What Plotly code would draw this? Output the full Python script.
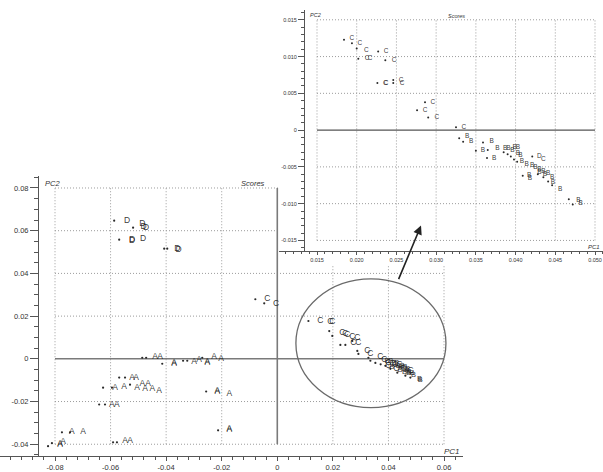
import plotly.graph_objects as go

# ---------------- main score plot: PC1 vs PC2 ----------------
main_xtick_vals = [-0.08, -0.06, -0.04, -0.02, 0.0, 0.02, 0.04, 0.06]
main_xtick_text = ["-0.08", "-0.06", "-0.04", "-0.02", "0", "0.02", "0.04", "0.06"]
main_ytick_vals = [-0.04, -0.02, 0.0, 0.02, 0.04, 0.06, 0.08]
main_ytick_text = ["-0.04", "-0.02", "0", "0.02", "0.04", "0.06", "0.08"]

# class A labels
A_lab_x = [-0.0440, -0.0422, -0.0371, -0.0371, -0.0299, -0.0281, -0.0252, -0.0252, -0.0227, -0.0202,
           -0.0523, -0.0508, -0.0584, -0.0551, -0.0505, -0.0486, -0.0465, -0.0476, -0.0450, -0.0425,
           -0.0216, -0.0216, -0.0173, -0.0595, -0.0577, -0.0739, -0.0699, -0.0173, -0.0173,
           -0.0782, -0.0782, -0.0771, -0.0548, -0.0530]
A_lab_y = [0.0009, 0.0009, -0.0019, -0.0024, -0.0014, -0.0005, -0.0014, -0.0019, 0.0009, 0.0000,
           -0.0088, -0.0088, -0.0135, -0.0130, -0.0135, -0.0116, -0.0116, -0.0140, -0.0140, -0.0149,
           -0.0153, -0.0149, -0.0163, -0.0214, -0.0214, -0.0344, -0.0344, -0.0335, -0.0330,
           -0.0400, -0.0405, -0.0391, -0.0386, -0.0384]
# class A sample dots
A_dot_x = [-0.0486, -0.0472, -0.0414, -0.0339, -0.0324, -0.0270, -0.0569, -0.0548, -0.0627, -0.0595,
           -0.0530, -0.0256, -0.0641, -0.0620, -0.0775, -0.0746, -0.0213, -0.0825, -0.0811, -0.0591,
           -0.0577]
A_dot_y = [0.0005, 0.0005, -0.0023, -0.0009, -0.0009, 0.0005, -0.0088, -0.0088, -0.0135, -0.0135,
           -0.0121, -0.0153, -0.0214, -0.0214, -0.0344, -0.0344, -0.0335, -0.0409, -0.0395, -0.0391,
           -0.0391]

# class D labels and dots
D_lab_x = [-0.0541, -0.0486, -0.0481, -0.0472, -0.0523, -0.0523, -0.0483, -0.0360, -0.0355]
D_lab_y = [0.0647, 0.0633, 0.0618, 0.0612, 0.0558, 0.0554, 0.0563, 0.0516, 0.0511]
D_dot_x = [-0.0587, -0.0519, -0.0569, -0.0407, -0.0396]
D_dot_y = [0.0647, 0.0614, 0.0558, 0.0516, 0.0516]

# class C labels and dots
C_lab_x = [-0.0036, -0.0004, 0.0155, 0.0191, 0.0198, 0.0234, 0.0245, 0.0252, 0.0270, 0.0288,
           0.0274, 0.0292, 0.0324, 0.0335, 0.0371, 0.0385, 0.0400, 0.0415, 0.0400, 0.0425,
           0.0428, 0.0440, 0.0455, 0.0480]
C_lab_y = [0.0279, 0.0256, 0.0177, 0.0175, 0.0172, 0.0121, 0.0116, 0.0112, 0.0102, 0.0100,
           0.0074, 0.0074, 0.0037, 0.0023, 0.0009, -0.0005, -0.0020, -0.0025, -0.0035, -0.0030,
           -0.0045, -0.0028, -0.0046, -0.0055]
C_dot_x = [-0.0079, -0.0047, 0.0112, 0.0187, 0.0198, 0.0227, 0.0245, 0.0270, 0.0288, 0.0292,
           0.0328, 0.0335, 0.0353, 0.0372, 0.0389, 0.0407, 0.0432, 0.0461, 0.0479]
C_dot_y = [0.0279, 0.0260, 0.0177, 0.0130, 0.0107, 0.0065, 0.0065, 0.0084, 0.0037, 0.0023,
           0.0005, -0.0009, -0.0019, -0.0026, -0.0033, -0.0047, -0.0065, -0.0079, -0.0088]

# class B labels
B_lab_x = [0.0395, 0.0408, 0.0420, 0.0430, 0.0435, 0.0445, 0.0450, 0.0460, 0.0465, 0.0470,
           0.0475, 0.0485, 0.0490, 0.0412, 0.0442, 0.0458, 0.0472, 0.0515, 0.0512]
B_lab_y = [-0.0010, -0.0012, -0.0018, -0.0022, -0.0035, -0.0040, -0.0033, -0.0040, -0.0052, -0.0047,
           -0.0060, -0.0068, -0.0075, -0.0040, -0.0052, -0.0060, -0.0068, -0.0098, -0.0095]

# ---------------- inset: enlarged region of the scores ----------------
ins_xtick_vals = [0.015, 0.020, 0.025, 0.030, 0.035, 0.040, 0.045, 0.050]
ins_xtick_text = ["0.015", "0.020", "0.025", "0.030", "0.035", "0.040", "0.045", "0.050"]
ins_ytick_vals = [-0.015, -0.010, -0.005, 0.0, 0.005, 0.010, 0.015]
ins_ytick_text = ["-0.015", "-0.010", "-0.005", "0", "0.005", "0.010", "0.015"]

iC_lab_x = [0.0194, 0.0204, 0.0212, 0.0213, 0.0217, 0.0237, 0.0247, 0.0236, 0.0237, 0.0256,
            0.0257, 0.0296, 0.0286, 0.0301, 0.0335, 0.0435]
iC_lab_y = [0.0125, 0.0118, 0.0109, 0.0097, 0.0097, 0.0107, 0.0095, 0.0064, 0.0063, 0.0067,
            0.0063, 0.0038, 0.0027, 0.0017, 0.0004, -0.0040]
iB_lab_x = [0.0339, 0.0344, 0.0370, 0.0359, 0.0373, 0.0377, 0.0387, 0.0391, 0.0396, 0.0399,
            0.0403, 0.0403, 0.0406, 0.0408, 0.0414, 0.0421, 0.0425, 0.0430, 0.0435, 0.0430,
            0.0437, 0.0417, 0.0418, 0.0441, 0.0446, 0.0447, 0.0456, 0.0479, 0.0482]
iB_lab_y = [-0.0009, -0.0016, -0.0016, -0.0028, -0.0038, -0.0025, -0.0025, -0.0025, -0.0028, -0.0024,
            -0.0023, -0.0031, -0.0035, -0.0042, -0.0047, -0.0048, -0.0050, -0.0053, -0.0056, -0.0058,
            -0.0060, -0.0062, -0.0066, -0.0059, -0.0064, -0.0071, -0.0080, -0.0095, -0.0099]
iD_lab_x = [0.0430]
iD_lab_y = [-0.0036]
i_dot_x = [0.0184, 0.0194, 0.0200, 0.0202, 0.0227, 0.0236, 0.0226, 0.0246, 0.0246, 0.0286,
           0.0276, 0.0290, 0.0325, 0.0329, 0.0334, 0.0359, 0.0350, 0.0365, 0.0364, 0.0385,
           0.0390, 0.0394, 0.0398, 0.0402, 0.0421, 0.0409, 0.0428, 0.0435, 0.0441, 0.0446,
           0.0467, 0.0472]
i_dot_y = [0.0123, 0.0118, 0.0111, 0.0097, 0.0107, 0.0095, 0.0064, 0.0068, 0.0064, 0.0038,
           0.0027, 0.0017, 0.0004, -0.0011, -0.0016, -0.0017, -0.0028, -0.0027, -0.0038, -0.0030,
           -0.0033, -0.0036, -0.0040, -0.0043, -0.0036, -0.0062, -0.0060, -0.0064, -0.0070, -0.0075,
           -0.0094, -0.0101]

# ---------------- geometry (pixels of the 603x472 page) ----------------
W, H = 603, 472
FONT = "Liberation Sans, Arial, sans-serif"
INK = "#333333"
MARK = "rgba(30,30,30,0.92)"
GRID = "#9c9c9c"


def px_range(p0, p1, v0, v1, e0, e1):
    """Axis range so that value v0 sits at pixel p0 and v1 at p1, for a domain e0..e1."""
    s = (v1 - v0) / (p1 - p0)
    return [v0 + (e0 - p0) * s, v0 + (e1 - p0) * s]


# main plot: data box [-0.08,0.06]x[-0.04,0.08] at pixels x 55..444, y 449..190
m_xdom = (0, 463)
m_ydom = (461, 178)
m_xr = px_range(55, 444, -0.08, 0.06, *m_xdom)
m_yr = px_range(449, 190, -0.04, 0.08, *m_ydom)

# inset: data box [0.015,0.050]x[-0.015,0.015] at pixels x 317..595, y 243..20
i_xdom = (279, 603)
i_ydom = (254, 10)
i_xr = px_range(317, 595, 0.015, 0.050, *i_xdom)
i_yr = px_range(243, 20, -0.015, 0.015, *i_ydom)

fig = go.Figure()


def grid_trace(xs, ys, xlim, ylim, xa, ya):
    gx, gy = [], []
    for v in xs:
        gx += [v, v, None]
        gy += [ylim[0], ylim[1], None]
    for v in ys:
        gx += [xlim[0], xlim[1], None]
        gy += [v, v, None]
    return go.Scatter(x=gx, y=gy, mode="lines", xaxis=xa, yaxis=ya, hoverinfo="skip",
                      line=dict(color=GRID, width=1, dash="1px,2px"), cliponaxis=False)


def letters(xs, ys, ch, size, xa, ya):
    return go.Scatter(x=xs, y=ys, mode="text", text=[ch] * len(xs), xaxis=xa, yaxis=ya,
                      textposition="middle center", cliponaxis=False,
                      textfont=dict(family=FONT, size=size, color=MARK))


def dots(xs, ys, xa, ya, size=2.2):
    return go.Scatter(x=xs, y=ys, mode="markers", xaxis=xa, yaxis=ya, cliponaxis=False,
                      marker=dict(size=size, color="#2a2a2a", line=dict(width=0)))


# --- main plot traces ---
fig.add_trace(grid_trace([-0.08, -0.06, -0.04, -0.02, 0.02, 0.04, 0.06],
                         [-0.04, -0.02, 0.02, 0.04, 0.06, 0.08],
                         (-0.08, 0.06), (-0.04, 0.08), "x", "y"))
fig.add_trace(go.Scatter(x=[-0.08, 0.06, None, 0, 0], y=[0, 0, None, -0.04, 0.08], mode="lines",
                         xaxis="x", yaxis="y", hoverinfo="skip", cliponaxis=False,
                         line=dict(color="#7a7a7a", width=1.6)))
fig.add_trace(dots(A_dot_x, A_dot_y, "x", "y"))
fig.add_trace(dots(D_dot_x, D_dot_y, "x", "y"))
fig.add_trace(dots(C_dot_x, C_dot_y, "x", "y"))
fig.add_trace(letters(A_lab_x, A_lab_y, "A", 8.5, "x", "y"))
fig.add_trace(letters(D_lab_x, D_lab_y, "D", 8.5, "x", "y"))
fig.add_trace(letters(C_lab_x, C_lab_y, "C", 8.5, "x", "y"))
fig.add_trace(letters(B_lab_x, B_lab_y, "B", 7.5, "x", "y"))

# --- white panel that carries the inset ---
fig.add_trace(go.Scatter(x=[None], y=[None], xaxis="x2", yaxis="y2", mode="markers",
                         hoverinfo="skip"))

# --- inset traces ---
fig.add_trace(grid_trace([0.015, 0.020, 0.025, 0.030, 0.035, 0.040, 0.045, 0.050],
                         [-0.015, -0.010, -0.005, 0.005, 0.010, 0.015],
                         (0.015, 0.050), (-0.015, 0.015), "x3", "y3"))
fig.add_trace(go.Scatter(x=[0.015, 0.050], y=[0, 0], mode="lines", xaxis="x3", yaxis="y3",
                         hoverinfo="skip", cliponaxis=False,
                         line=dict(color="#555555", width=1.4)))
fig.add_trace(dots(i_dot_x, i_dot_y, "x3", "y3", size=2))
fig.add_trace(letters(iC_lab_x, iC_lab_y, "C", 6.5, "x3", "y3"))
fig.add_trace(letters(iB_lab_x, iB_lab_y, "B", 6.5, "x3", "y3"))
fig.add_trace(letters(iD_lab_x, iD_lab_y, "D", 6.5, "x3", "y3"))


def fx(p):
    return p / W


def fy(p):
    return 1 - p / H


axis_common = dict(showgrid=False, zeroline=False, showline=True, linecolor="#555555",
                   linewidth=1, ticks="outside", tickcolor="#555555", tickmode="array",
                   fixedrange=True)

fig.update_layout(
    width=W, height=H, margin=dict(l=0, r=0, t=0, b=0),
    paper_bgcolor="white", plot_bgcolor="white", showlegend=False,
    font=dict(family=FONT, color=INK),
    xaxis=dict(axis_common, domain=[fx(m_xdom[0]), fx(m_xdom[1])], range=m_xr, anchor="y",
               tickvals=main_xtick_vals, ticktext=main_xtick_text, ticklen=4,
               tickfont=dict(size=7.5, color=INK),
               minor=dict(ticks="outside", dtick=0.004, tick0=0, ticklen=2.5,
                          tickcolor="#555555")),
    yaxis=dict(axis_common, domain=[fy(m_ydom[0]), fy(m_ydom[1])], range=m_yr, anchor="free",
               position=fx(38), tickvals=main_ytick_vals, ticktext=main_ytick_text, ticklen=8,
               tickfont=dict(size=7.5, color=INK),
               minor=dict(ticks="outside", dtick=0.005, tick0=0, ticklen=4,
                          tickcolor="#555555")),
    xaxis2=dict(visible=False, domain=[fx(279), 1], range=[0, 1], anchor="y2", fixedrange=True),
    yaxis2=dict(visible=False, domain=[fy(268), 1], range=[0, 1], anchor="x2", fixedrange=True),
    xaxis3=dict(axis_common, domain=[fx(i_xdom[0]), fx(i_xdom[1])], range=i_xr, anchor="y3",
                tickvals=ins_xtick_vals, ticktext=ins_xtick_text, ticklen=3,
                tickfont=dict(size=5.5, color=INK),
                minor=dict(ticks="outside", dtick=0.001, tick0=0, ticklen=2,
                           tickcolor="#555555")),
    yaxis3=dict(axis_common, domain=[fy(i_ydom[0]), fy(i_ydom[1])], range=i_yr, anchor="free",
                position=fx(304), tickvals=ins_ytick_vals, ticktext=ins_ytick_text, ticklen=6,
                tickfont=dict(size=5.5, color=INK),
                minor=dict(ticks="outside", dtick=0.001, tick0=0, ticklen=3,
                           tickcolor="#555555")),
)

# confidence ellipse around the C/B cluster
fig.add_shape(type="circle", xref="x", yref="y", x0=0.0067, x1=0.0607, y0=-0.0229, y1=0.0374,
              line=dict(color="#6a6a6a", width=1.3), layer="above")


def label(text, x, y, size, italic=True, anchor="left"):
    fig.add_annotation(text=text, xref="paper", yref="paper", x=fx(x), y=fy(y),
                       xanchor=anchor, yanchor="middle", showarrow=False,
                       font=dict(family=FONT, size=size, color=INK,
                                 style="italic" if italic else "normal"))


label("PC2", 43, 185, 7.5)
label("Scores", 239, 185, 7.5)
label("PC1", 442, 456, 8)
label("PC2", 308, 15, 5.5)
label("Scores", 446, 16, 5.5)
label("PC1", 602, 250, 6, anchor="right")

# arrow from the ellipse to the enlarged view
fig.add_annotation(x=fx(421), y=fy(228), xref="paper", yref="paper", ax=-23, ay=55,
                   text="", showarrow=True, arrowhead=2, arrowsize=1.1, arrowwidth=1.6,
                   arrowcolor="#222222")

fig.write_html("out.html")
